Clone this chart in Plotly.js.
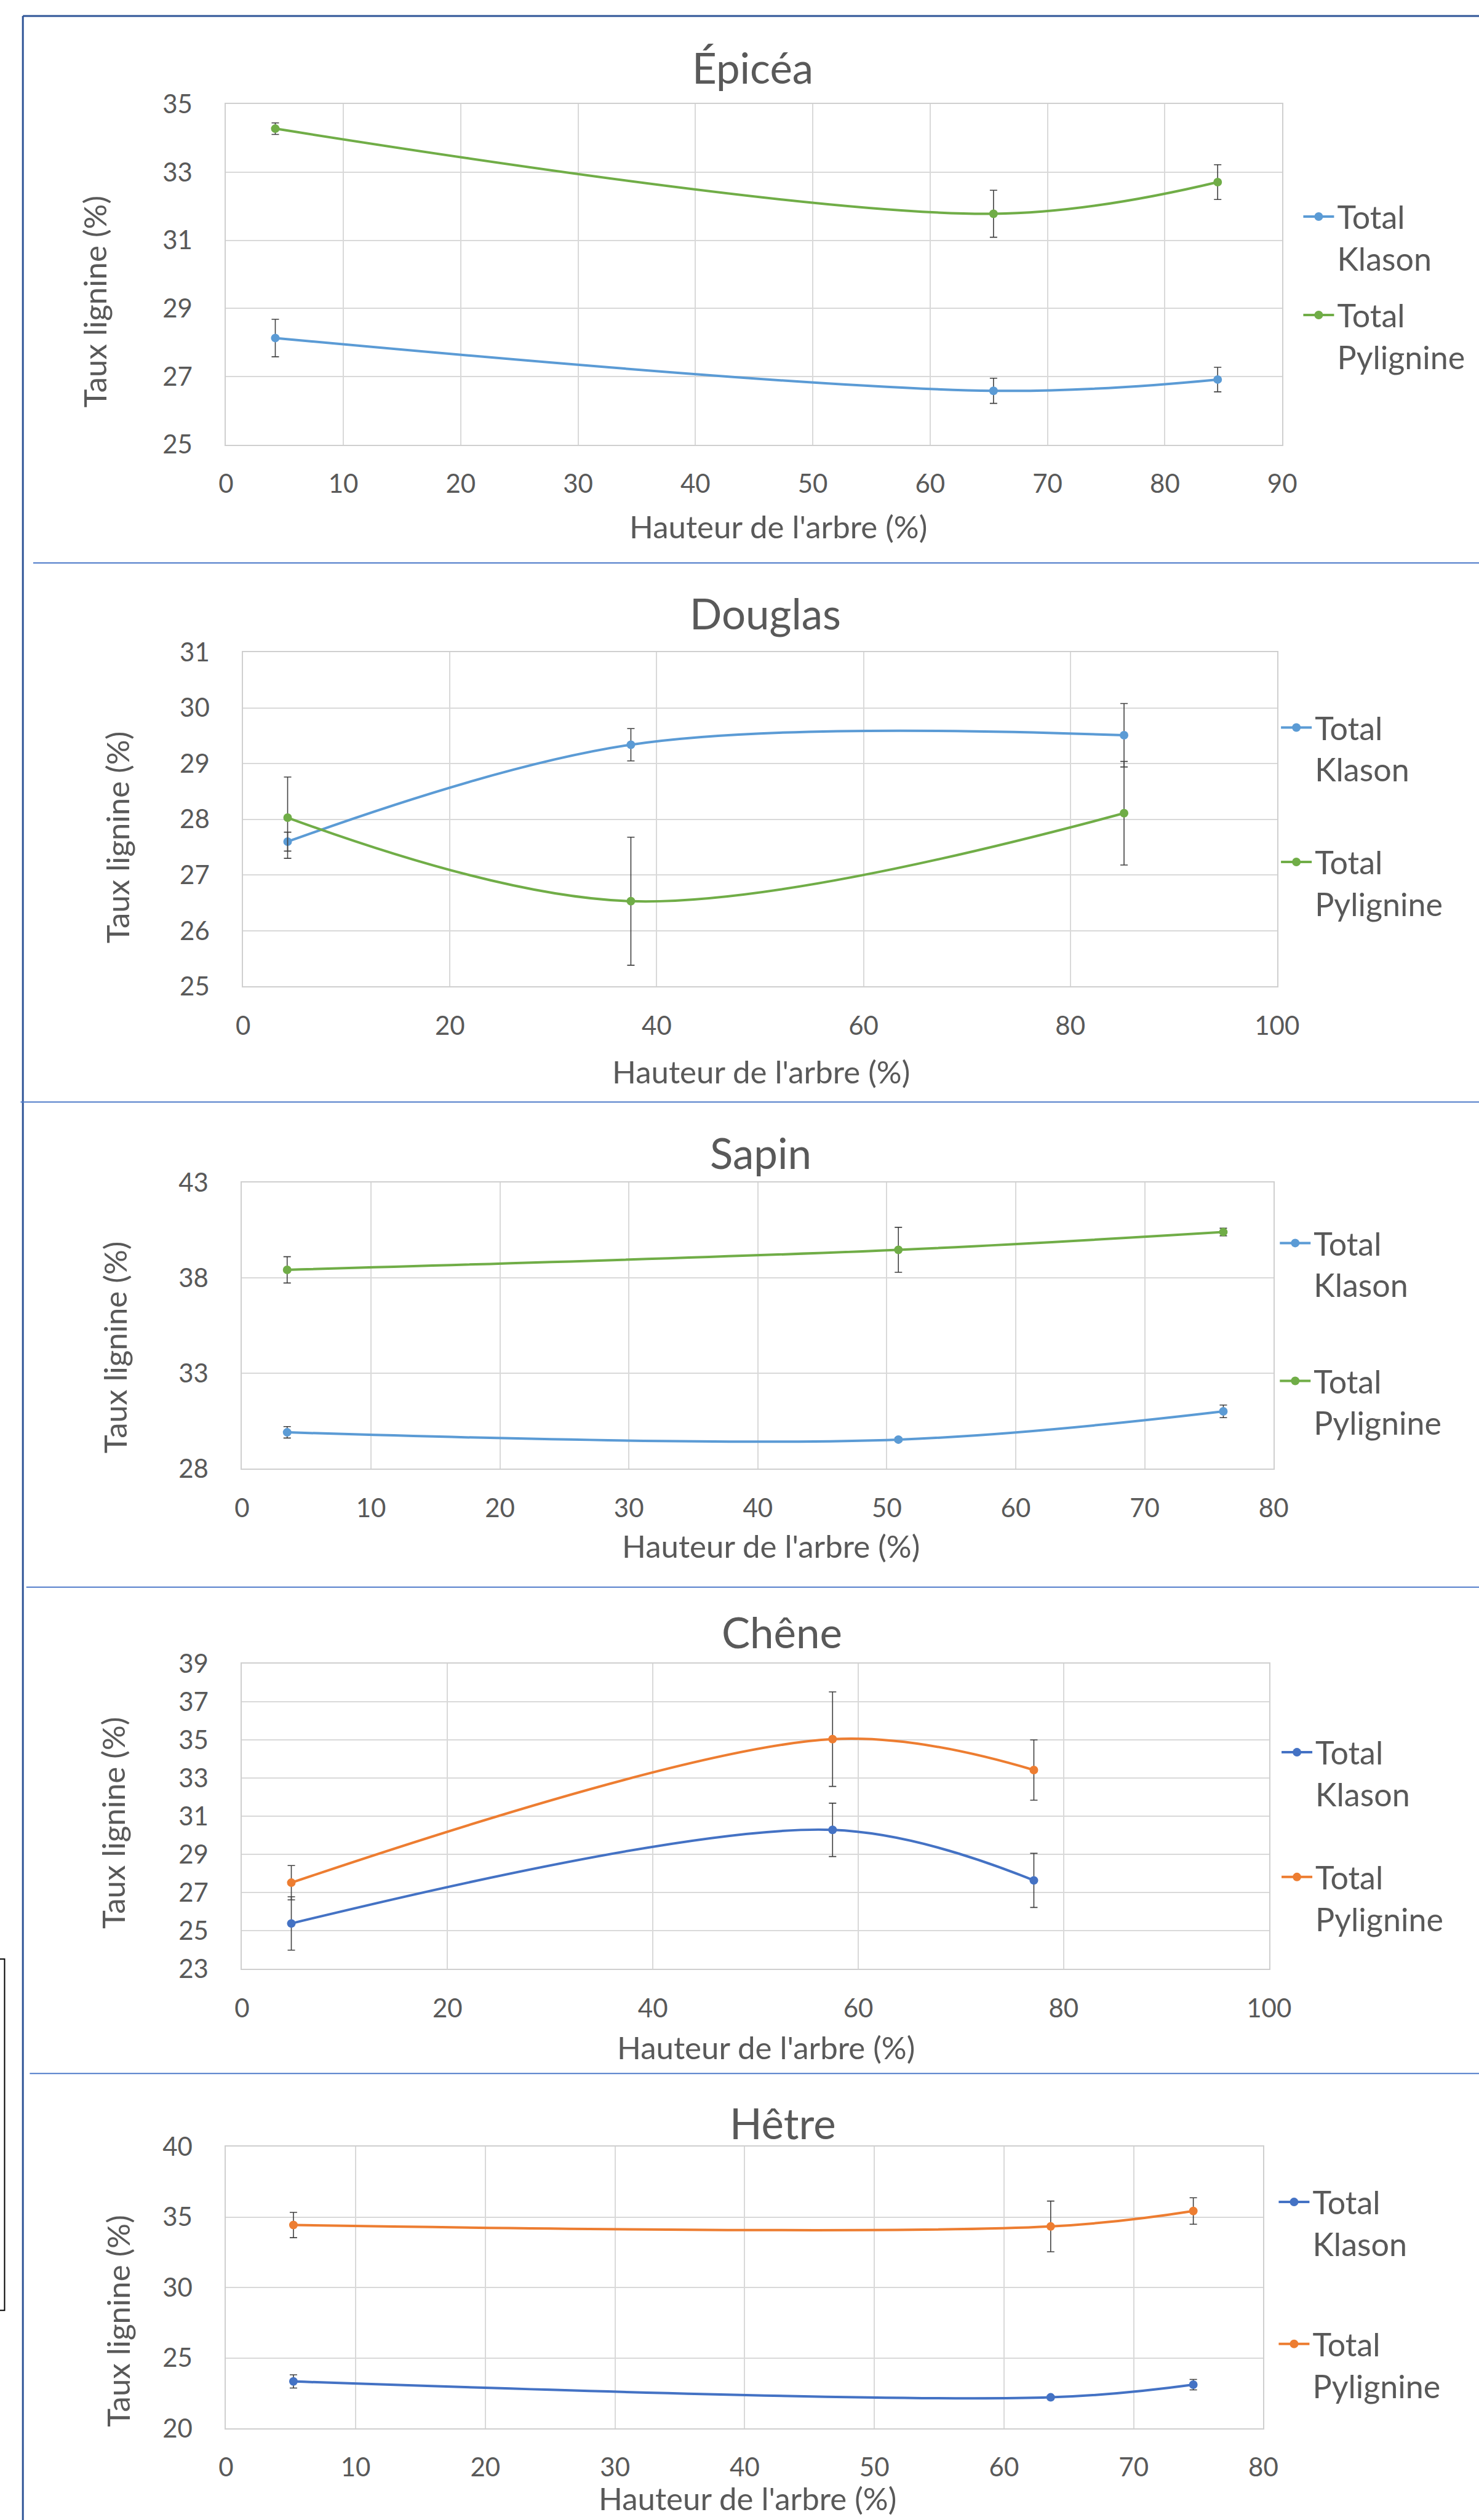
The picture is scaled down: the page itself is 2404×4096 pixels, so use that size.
<!DOCTYPE html>
<html>
<head>
<meta charset="utf-8">
<script src="https://cdn.plot.ly/plotly-3.0.1.min.js"></script>
<style>html,body{margin:0;padding:0;background:#fff;}#chart{width:2404px;height:4096px;}</style>
</head>
<body>
<div id="chart"></div>
<script>
// ---------- DATA ----------
const speciesNames = ['Épicéa', 'Douglas', 'Sapin', 'Chêne', 'Hêtre'];
const seriesNames = ['Total<br>Klason', 'Total<br>Pylignine'];
const xAxisTitle = "Hauteur de l'arbre (%)";
const yAxisTitle = 'Taux lignine (%)';

const epiceaHeight = [4.2, 65.4, 84.5];
const epiceaKlason = [28.13, 26.58, 26.91];
const epiceaKlasonErr = [0.55, 0.37, 0.36];
const epiceaPylignine = [34.28, 31.78, 32.71];
const epiceaPylignineErr = [0.17, 0.69, 0.51];

const douglasHeight = [4.3, 37.5, 85.2];
const douglasKlason = [27.60, 29.34, 29.51];
const douglasKlasonErr = [0.17, 0.29, 0.57];
const douglasPylignine = [28.03, 26.53, 28.11];
const douglasPylignineErr = [0.73, 1.15, 0.93];

const sapinHeight = [3.5, 50.9, 76.1];
const sapinKlason = [29.91, 29.53, 31.01];
const sapinKlasonErr = [0.30, 0.10, 0.33];
const sapinPylignine = [38.43, 39.48, 40.41];
const sapinPylignineErr = [0.69, 1.18, 0.20];

const cheneHeight = [4.8, 57.5, 77.1];
const cheneKlason = [25.38, 30.29, 27.64];
const cheneKlasonErr = [1.40, 1.40, 1.42];
const chenePylignine = [27.52, 35.05, 33.43];
const chenePylignineErr = [0.90, 2.48, 1.58];

const hetreHeight = [5.2, 63.6, 74.6];
const hetreKlason = [23.33, 22.20, 23.10];
const hetreKlasonErr = [0.47, 0.12, 0.37];
const hetrePylignine = [34.44, 34.34, 35.44];
const hetrePylignineErr = [0.90, 1.80, 0.94];

const xRanges = [[0, 90], [0, 100], [0, 80], [0, 100], [0, 80]];
const xSteps = [10, 20, 10, 20, 10];
const yRanges = [[25, 35], [25, 31], [28, 43], [23, 39], [20, 40]];
const ySteps = [2, 1, 5, 2, 5];

// ---------- LAYOUT / STYLE ----------
const S = 0.93, W = 2404, H = 4096;
const px = v => v * S / W;
const py = v => 1 - v * S / H;
const FONT = 'Lato, "Open Sans", sans-serif';
const TXT = '#595959';
const ITEMW = 50;

const palettes = [
  ['#5B9BD5', '#70AD47'], ['#5B9BD5', '#70AD47'], ['#5B9BD5', '#70AD47'],
  ['#4472C4', '#ED7D31'], ['#4472C4', '#ED7D31']
];

// positions in reference pixels
const panels = [
  {plot: [395, 182, 2241, 777], title: [1316, 118], ytitle: [165, 527], xtitle: [1360, 920], leg: [2337, 376, 548]},
  {plot: [425, 1140, 2232, 1724], title: [1338, 1072], ytitle: [205, 1463], xtitle: [1330, 1873], leg: [2298, 1269, 1504]},
  {plot: [423, 2067, 2226, 2567], title: [1330, 2015], ytitle: [200, 2355], xtitle: [1347, 2702], leg: [2296, 2170, 2411]},
  {plot: [423, 2908, 2218, 3441], title: [1367, 2852], ytitle: [198, 3186], xtitle: [1339, 3578], leg: [2299, 3060, 3278]},
  {plot: [395, 3752, 2208, 4244], title: [1368, 3710], ytitle: [205, 4056], xtitle: [1306, 4366], leg: [2294, 3846, 4094]}
];

const seriesData = [
  [epiceaHeight, epiceaKlason, epiceaKlasonErr, epiceaPylignine, epiceaPylignineErr],
  [douglasHeight, douglasKlason, douglasKlasonErr, douglasPylignine, douglasPylignineErr],
  [sapinHeight, sapinKlason, sapinKlasonErr, sapinPylignine, sapinPylignineErr],
  [cheneHeight, cheneKlason, cheneKlasonErr, chenePylignine, chenePylignineErr],
  [hetreHeight, hetreKlason, hetreKlasonErr, hetrePylignine, hetrePylignineErr]
];

const traces = [];
const layout = {
  width: W, height: H,
  margin: {l: 0, r: 0, t: 0, b: 0},
  paper_bgcolor: '#ffffff', plot_bgcolor: '#ffffff',
  font: {family: FONT, color: TXT},
  annotations: [], shapes: []
};

panels.forEach((p, i) => {
  const k = i + 1;
  const xa = 'xaxis' + (k === 1 ? '' : k), ya = 'yaxis' + (k === 1 ? '' : k);
  const axCommon = {
    showgrid: true, gridcolor: '#D9D9D9', gridwidth: 2,
    showline: true, mirror: true, linecolor: '#CFCFCF', linewidth: 2,
    zeroline: false, ticks: '', tickfont: {family: FONT, size: 42, color: TXT},
    fixedrange: true
  };
  layout[xa] = Object.assign({}, axCommon, {
    domain: [px(p.plot[0]), px(p.plot[2])],
    range: xRanges[i], dtick: xSteps[i], tick0: 0,
    anchor: 'y' + (k === 1 ? '' : k), ticklabelstandoff: 26
  });
  layout[ya] = Object.assign({}, axCommon, {
    domain: [py(p.plot[3]), py(p.plot[1])],
    range: yRanges[i], dtick: ySteps[i], tick0: yRanges[i][0],
    anchor: 'x' + (k === 1 ? '' : k), ticklabelstandoff: 44
  });
  const d = seriesData[i];
  [0, 1].forEach(s => {
    const legId = 'legend' + (2 * i + s === 0 ? '' : (2 * i + s + 1));
    traces.push({
      type: 'scatter', mode: 'lines+markers',
      name: seriesNames[s],
      x: d[0], y: d[1 + 2 * s],
      error_y: {type: 'data', array: d[2 + 2 * s], visible: true, color: '#404040', thickness: 1.6, width: 6},
      line: {color: palettes[i][s], width: 4, shape: 'spline', smoothing: 1},
      marker: {color: palettes[i][s], size: 14},
      xaxis: 'x' + (k === 1 ? '' : k), yaxis: 'y' + (k === 1 ? '' : k),
      legend: legId, showlegend: true
    });
    layout[legId] = {
      x: px(p.leg[0]) - (ITEMW + 10) / W, y: py(p.leg[1 + s]) + 38 / H,
      xanchor: 'left', yanchor: 'top', valign: 'top', itemwidth: ITEMW,
      bgcolor: 'rgba(0,0,0,0)', borderwidth: 0,
      font: {family: FONT, size: 52, color: TXT}
    };
  });
  layout.annotations.push(
    {text: speciesNames[i], xref: 'paper', yref: 'paper', x: px(p.title[0]), y: py(p.title[1]),
     xanchor: 'center', yanchor: 'middle', showarrow: false, font: {family: FONT, size: 69, color: TXT}},
    {text: xAxisTitle, xref: 'paper', yref: 'paper', x: px(p.xtitle[0]), y: py(p.xtitle[1]),
     xanchor: 'center', yanchor: 'middle', showarrow: false, font: {family: FONT, size: 51, color: TXT}},
    {text: yAxisTitle, xref: 'paper', yref: 'paper', x: px(p.ytitle[0]), y: py(p.ytitle[1]), textangle: -90,
     xanchor: 'center', yanchor: 'middle', showarrow: false, font: {family: FONT, size: 51, color: TXT}}
  );
});

// frame lines
const line = (x0, y0, x1, y1, color, w) => ({type: 'line', xref: 'paper', yref: 'paper',
  x0: px(x0), y0: py(y0), x1: px(x1), y1: py(y1), line: {color: color, width: w}});
layout.shapes.push(
  line(40, 28, 2600, 28, '#2F5597', 3),
  line(40, 28, 40, 4420, '#2F5597', 3),
  line(58, 984, 2600, 984, '#4F7BC9', 2),
  line(36, 1926, 2600, 1926, '#4F7BC9', 2),
  line(46, 2774, 2600, 2774, '#4F7BC9', 2),
  line(52, 3624, 2600, 3624, '#4F7BC9', 2),
  {type: 'rect', xref: 'paper', yref: 'paper', x0: px(-20), x1: px(8), y0: py(4038), y1: py(3424),
   line: {color: '#000000', width: 2}}
);

Plotly.newPlot('chart', traces, layout, {displayModeBar: false, staticPlot: true});
</script>
</body>
</html>
